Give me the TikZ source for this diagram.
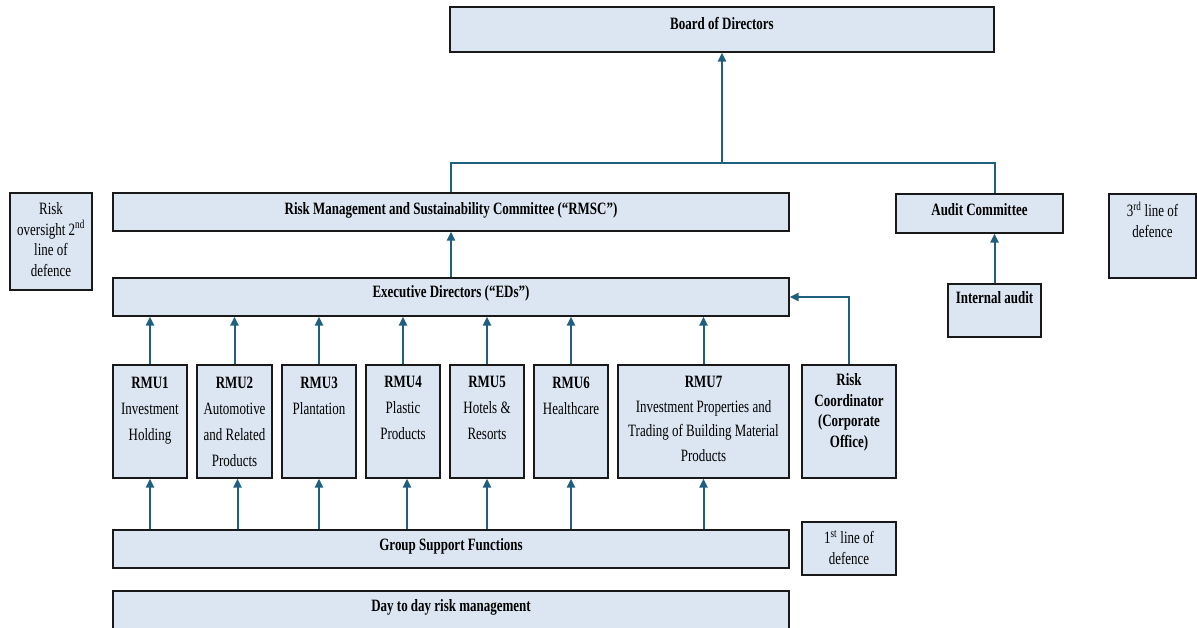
\documentclass[tikz,border=0pt]{standalone}
\usepackage{fontspec}
\setmainfont{Liberation Serif}[FakeStretch=0.75]
\usetikzlibrary{arrows.meta}
\definecolor{boxfill}{HTML}{DCE6F2}
\definecolor{arrcol}{HTML}{1F5F80}
\tikzset{
  box/.style={draw=black!90, line width=1.2pt, fill=boxfill, inner sep=0pt},
  lbl/.style={anchor=north, align=center, inner sep=0pt},
  txt/.style 2 args={label={[lbl,yshift=-#1pt]north:#2}},
  rmutxt/.style 2 args={label={[lbl,yshift=-12pt,font=\fontsize{17.3}{#1}\selectfont]north:#2}},
  arr/.style={draw=arrcol, line width=2pt, -{Triangle[width=8pt,length=9pt]}},
  link/.style={draw=arrcol, line width=2pt},
}
\begin{document}
\begin{tikzpicture}[x=1pt,y=-1pt,font=\fontsize{17.3}{20.5}\selectfont]
  \useasboundingbox (0,0) rectangle (1197,627);
  % top level
  \node[box, minimum width=544, minimum height=45, txt={11}{\textbf{Board of Directors}}] (board) at (722,29.5) {};
  \node[box, minimum width=676, minimum height=38, txt={10}{\textbf{Risk Management and Sustainability Committee (``RMSC'')}}] (rmsc) at (451,212) {};
  \node[box, minimum width=167, minimum height=39, txt={10}{\textbf{Audit Committee}}] (audit) at (979.5,213.5) {};
  \node[box, minimum width=82, minimum height=97, txt={10}{Risk\\oversight 2\textsuperscript{nd}\\line of\\defence}] (ro) at (51,241.5) {};
  \node[box, minimum width=87, minimum height=84, txt={8.5}{3\textsuperscript{rd} line of\\defence}] (third) at (1152.5,236) {};
  \node[box, minimum width=676, minimum height=38, txt={8}{\textbf{Executive Directors (``EDs'')}}] (eds) at (451,297) {};
  \node[box, minimum width=93, minimum height=53, txt={8}{\textbf{Internal audit}}] (ia) at (994.5,310.5) {};
  % risk management units
  \node[box, minimum width=74, minimum height=113, rmutxt={26}{\textbf{RMU1}\\Investment\\Holding}] (rmu1) at (150,421.5) {};
  \node[box, minimum width=75, minimum height=113, rmutxt={26}{\textbf{RMU2}\\Automotive\\and Related\\Products}] (rmu2) at (234.5,421.5) {};
  \node[box, minimum width=74, minimum height=113, rmutxt={26}{\textbf{RMU3}\\Plantation}] (rmu3) at (319,421.5) {};
  \node[box, minimum width=74, minimum height=113, rmutxt={26}{\textbf{RMU4}\\Plastic\\Products}] (rmu4) at (403,421.5) {};
  \node[box, minimum width=74, minimum height=113, rmutxt={26}{\textbf{RMU5}\\Hotels \&\\Resorts}] (rmu5) at (487,421.5) {};
  \node[box, minimum width=74, minimum height=113, rmutxt={26}{\textbf{RMU6}\\Healthcare}] (rmu6) at (571,421.5) {};
  \node[box, minimum width=171, minimum height=113, rmutxt={24.5}{\textbf{RMU7}\\Investment Properties and\\Trading of Building Material\\Products}] (rmu7) at (703.5,421.5) {};
  \node[box, minimum width=94, minimum height=113, txt={9}{\textbf{Risk}\\\textbf{Coordinator}\\\textbf{(Corporate}\\\textbf{Office)}}] (rc) at (849,421.5) {};
  % bottom
  \node[box, minimum width=676, minimum height=38, txt={9}{\textbf{Group Support Functions}}] (gsf) at (451,549) {};
  \node[box, minimum width=94, minimum height=53, txt={9}{1\textsuperscript{st} line of\\defence}] (first) at (849,548.5) {};
  \node[box, minimum width=676, minimum height=49, txt={9}{\textbf{Day to day risk management}}] (dtd) at (451,615.5) {};
  % connectors
  \coordinate (bj) at (722,163);
  \draw[arr] (rmsc.north) |- (bj) -- (board.south);
  \draw[link] (audit.north -| ia.north) |- (bj);
  \draw[arr] (ia.north) -- (ia.north |- audit.south);
  \draw[arr] (eds.north) -- (rmsc.south);
  \foreach \i in {1,...,7}
    \draw[arr] (rmu\i.north) -- (rmu\i.north |- eds.south);
  \draw[arr] (rc.north) |- (eds.east);
  \foreach \i/\dx in {1/0,2/3,3/0,4/4,5/0,6/0,7/0}
    \draw[arr] ([xshift=\dx pt]rmu\i.south |- gsf.north) -- ([xshift=\dx pt]rmu\i.south);
\end{tikzpicture}
\end{document}
